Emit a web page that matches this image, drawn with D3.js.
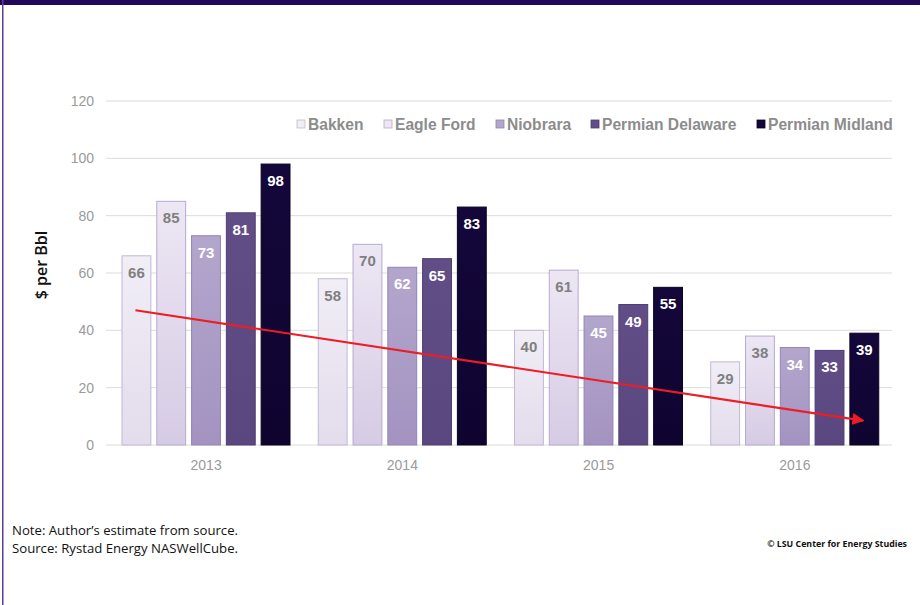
<!DOCTYPE html>
<html>
<head>
<meta charset="utf-8">
<script src="https://cdn.jsdelivr.net/npm/d3@7"></script>
<style>
  html, body { margin: 0; padding: 0; background: #fff; }
  svg { display: block; }
</style>
</head>
<body>
<svg id="chart" width="920" height="605"></svg>
<script>
// ---- data ----
const years = ["2013", "2014", "2015", "2016"];
const seriesNames = ["Bakken", "Eagle Ford", "Niobrara", "Permian Delaware", "Permian Midland"];
const bakken = [66, 58, 40, 29];
const eagleFord = [85, 70, 61, 38];
const niobrara = [73, 62, 45, 34];
const permianDelaware = [81, 65, 49, 33];
const permianMidland = [98, 83, 55, 39];
const yTicks = [0, 20, 40, 60, 80, 100, 120];
const trendStart = 47;   // value at first bar of 2013
const trendEnd = 8.5;    // value at last bar of 2016

const seriesValues = [bakken, eagleFord, niobrara, permianDelaware, permianMidland];
const topColors = ["#f1eef6", "#ede7f4", "#b3a6cc", "#624e87", "#14073a"];
const botColors = ["#e3dcec", "#d6cbe4", "#a493c1", "#5b477f", "#0f0430"];
const strokeColors = ["#c2b8d6", "#b7aacf", "#9484b5", "#4e3c72", "#0a0222"];
const labelColors = ["#808080", "#808080", "#ffffff", "#ffffff", "#ffffff"];

const svg = d3.select("#chart");

// frame
svg.append("rect").attr("x", 0).attr("y", 0).attr("width", 920).attr("height", 5).attr("fill", "#22085a");
svg.append("rect").attr("x", 2).attr("y", 0).attr("width", 1.5).attr("height", 605).attr("fill", "#5b3f92");

// gradients
const defs = svg.append("defs");
seriesNames.forEach((s, i) => {
  const g = defs.append("linearGradient").attr("id", "grad" + i)
    .attr("x1", 0).attr("y1", 0).attr("x2", 0).attr("y2", 1);
  g.append("stop").attr("offset", "0%").attr("stop-color", topColors[i]);
  g.append("stop").attr("offset", "100%").attr("stop-color", botColors[i]);
});
const mk = defs.append("marker").attr("id", "arrow")
  .attr("viewBox", "0 0 10 10").attr("refX", 9).attr("refY", 5)
  .attr("markerWidth", 5.5).attr("markerHeight", 5.5).attr("orient", "auto");
mk.append("path").attr("d", "M0,0 L10,5 L0,10 Z").attr("fill", "#ee1c25");

// scales
const x0 = d3.scaleBand().domain(years).range([108, 893]).padding(0);
const x1 = d3.scaleBand().domain(seriesNames).range([14, 182]).paddingInner(0.17).paddingOuter(0);
const y = d3.scaleLinear().domain([0, 120]).range([445, 101]);

// gridlines
svg.append("g").selectAll("line").data(yTicks).join("line")
  .attr("x1", 106).attr("x2", 892)
  .attr("y1", d => y(d)).attr("y2", d => y(d))
  .attr("stroke", "#dcdcdc").attr("stroke-width", 1);

// y axis
const yAxis = svg.append("g").attr("transform", "translate(100,0)")
  .call(d3.axisLeft(y).tickValues(yTicks).tickSize(0).tickPadding(6));
yAxis.select(".domain").remove();
yAxis.selectAll("text").attr("fill", "#9a9a9a").style("font-family", "Liberation Sans, Arial, sans-serif").style("font-size", "14px");

// x axis
const xAxis = svg.append("g").attr("transform", "translate(0,458)")
  .call(d3.axisBottom(x0).tickSize(0).tickPadding(2));
xAxis.select(".domain").remove();
xAxis.selectAll("text").attr("fill", "#9a9a9a").style("font-family", "Liberation Sans, Arial, sans-serif").style("font-size", "14px");

// bars
const groups = svg.append("g").selectAll("g").data(years).join("g")
  .attr("transform", d => `translate(${x0(d)},0)`);
groups.each(function (yr, yi) {
  const g = d3.select(this);
  const data = seriesNames.map((s, si) => ({ s, si, v: seriesValues[si][yi] }));
  g.selectAll("rect").data(data).join("rect")
    .attr("x", d => x1(d.s))
    .attr("y", d => y(d.v))
    .attr("width", x1.bandwidth())
    .attr("height", d => y(0) - y(d.v))
    .attr("fill", d => `url(#grad${d.si})`)
    .attr("stroke", d => strokeColors[d.si])
    .attr("stroke-width", 1);
  g.selectAll("text").data(data).join("text")
    .attr("x", d => x1(d.s) + x1.bandwidth() / 2)
    .attr("y", d => y(d.v) + 22)
    .attr("text-anchor", "middle")
    .attr("fill", d => labelColors[d.si])
    .style("font-family", "Liberation Sans, Arial, sans-serif")
    .style("font-weight", "bold")
    .style("font-size", "15px")
    .text(d => d.v);
});

// trend arrow
const xs = x0(years[0]) + x1(seriesNames[0]) + x1.bandwidth() / 2 - 1;
const xe = x0(years[3]) + x1(seriesNames[4]) + x1.bandwidth() / 2 - 1;
svg.append("line")
  .attr("x1", xs).attr("y1", y(trendStart))
  .attr("x2", xe).attr("y2", y(trendEnd))
  .attr("stroke", "#ee1c25").attr("stroke-width", 2.2)
  .attr("marker-end", "url(#arrow)");

// legend
const legendX = [297, 384, 496, 591, 757];
const leg = svg.append("g").selectAll("g").data(seriesNames).join("g")
  .attr("transform", (d, i) => `translate(${legendX[i]},120)`);
leg.append("rect").attr("x", 0).attr("y", 0).attr("width", 8).attr("height", 8)
  .attr("fill", (d, i) => topColors[i]).attr("stroke", (d, i) => strokeColors[i]).attr("stroke-width", 0.8);
leg.append("text").attr("x", 11).attr("y", 9.8)
  .attr("fill", "#8c8c8c")
  .style("font-family", "Liberation Sans, Arial, sans-serif")
  .style("font-weight", "bold")
  .style("font-size", "15.6px")
  .text(d => d);

// y title
svg.append("text")
  .attr("transform", "translate(47,265) rotate(-90)")
  .attr("text-anchor", "middle")
  .attr("fill", "#111")
  .style("font-family", "Open Sans, sans-serif")
  .style("font-size", "16px")
  .style("font-weight", "600")
  .text("$ per Bbl");

// notes
const notes = svg.append("g").style("font-family", "Open Sans, sans-serif").style("font-size", "12.5px").attr("fill", "#111");
notes.append("text").attr("x", 12).attr("y", 535).attr("textLength", 226).attr("lengthAdjust", "spacingAndGlyphs").text("Note: Author\u2019s estimate from source.");
notes.append("text").attr("x", 12).attr("y", 553).attr("textLength", 226).attr("lengthAdjust", "spacingAndGlyphs").text("Source: Rystad Energy NASWellCube.");
svg.append("text").attr("x", 907).attr("y", 547).attr("text-anchor", "end")
  .attr("fill", "#111")
  .style("font-family", "Open Sans, sans-serif").style("font-weight", "bold").style("font-size", "8.8px")
  .text("\u00a9 LSU Center for Energy Studies");
</script>
</body>
</html>
